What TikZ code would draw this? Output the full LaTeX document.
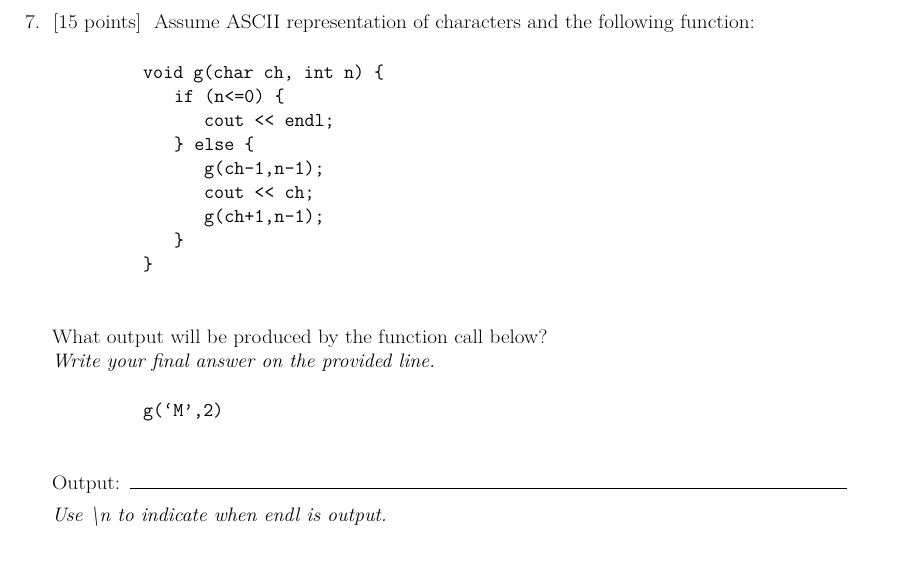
\documentclass[tikz,border=0pt]{standalone}
\usepackage{fontspec}
\usepackage{graphicx}
\newcommand{\rmw}[1]{\scalebox{1.087}[1]{#1}}
\newcommand{\itw}[1]{\scalebox{1.02}[1]{#1}}
\begin{document}
\begin{tikzpicture}[x=1pt,y=-1pt,txt/.style={anchor=base west,inner sep=0pt,font=\fontsize{19.5}{24}\selectfont},code/.style={txt,font=\fontsize{19.5}{24}\ttfamily}]
\useasboundingbox[fill=white] (0,0) rectangle (903,563);
\node[txt] (t) at (25,28) {\rmw{7.\ \ [15 points]\ \ Assume ASCII representation of characters and the following function:}};
\node[code] (c1) at (143,78) {void g(char ch, int n) \{};
\node[code] (c2) at (174,102) {if (n<=0) \{};
\node[code] (c3) at (204,126) {cout << endl;};
\node[code] (c4) at (174,150) {\} else \{};
\node[code] (c5) at (204,174) {g(ch-1,n-1);};
\node[code] (c6) at (204,198) {cout << ch;};
\node[code] (c7) at (204,222) {g(ch+1,n-1);};
\node[code] (c8) at (174,246) {\}};
\node[code] (c9) at (143,270) {\}};
\node[txt] (q) at (52,343) {\rmw{What output will be produced by the function call below?}};
\node[txt,font=\fontsize{19.5}{24}\itshape] (w) at (52,367) {\itw{Write your final answer on the provided line.}};
\node[code] (call) at (143,416) {g(‘M’,2)};
\node[txt] (o) at (52,489) {\rmw{Output:}};
\coordinate (l1) at (130,488);
\coordinate (l2) at (847,488);
\draw[line width=0.8pt] (l1) -- (l2);
\node[txt,font=\fontsize{19.5}{24}\itshape] (u) at (52,521) {\itw{Use \textbackslash n to indicate when endl is output.}};
\end{tikzpicture}
\end{document}
